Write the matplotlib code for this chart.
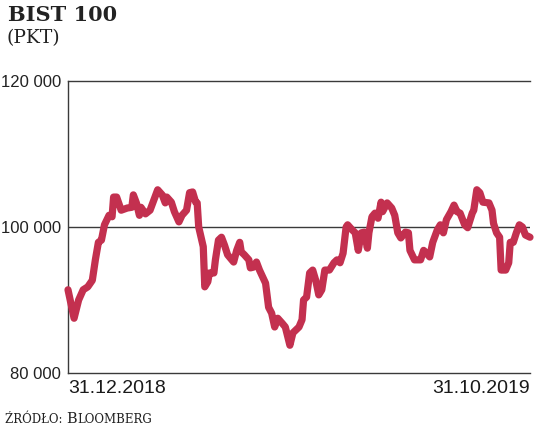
import matplotlib.pyplot as plt

# BIST 100 index, days since 31.12.2018
days = [0, 4, 7, 10, 13, 16, 18, 20, 22, 24, 27, 29, 30, 32, 35, 39, 42, 43, 45, 47,
        48, 51, 54, 57, 59, 62, 64, 65, 68, 70, 73, 75, 78, 80, 82, 84, 85, 86, 89, 90,
        92, 93, 96, 97, 99, 101, 103, 105, 109, 111, 113, 114, 116, 119, 120, 122, 124, 126, 130, 132,
        134, 136, 138, 141, 143, 146, 148, 152, 154, 155, 157, 159, 161, 163, 165, 167, 169, 172, 175, 177,
        179, 181, 183, 184, 187, 189, 191, 193, 195, 197, 198, 200, 202, 204, 206, 207, 210, 213, 215, 217,
        219, 222, 224, 225, 228, 232, 234, 236, 238, 240, 243, 245, 247, 249, 252, 254, 256, 258, 261, 263,
        266, 267, 269, 271, 273, 277, 279, 280, 282, 284, 285, 288, 290, 291, 293, 295, 297, 299, 301, 304]
values = [91400, 87500, 90000, 91400, 91800, 92700, 95500, 97900, 98200, 100300, 101600, 101400, 104100, 104100, 102300, 102600, 102700, 104400, 103300, 101600,
          102700, 101800, 102300, 104000, 105100, 104400, 103300, 104100, 103400, 102100, 100700, 101600, 102300, 104700, 104800, 103400, 103300, 100000, 97300, 91800,
          92500, 93700, 93700, 95500, 98200, 98600, 97500, 96200, 95200, 96800, 97900, 96600, 96200, 95500, 94400, 94500, 95200, 94100, 92300, 89000,
          88200, 86300, 87500, 86800, 86300, 83800, 85500, 86300, 87300, 90000, 90400, 93700, 94100, 92700, 90700, 91400, 94100, 94100, 95100, 95500,
          95100, 96400, 100000, 100300, 99600, 99200, 96800, 99200, 99300, 97100, 99200, 101400, 101900, 101200, 103400, 102100, 103300, 102600, 101600, 99200,
          98500, 99300, 99200, 96800, 95500, 95500, 96800, 96400, 95900, 97900, 99600, 100300, 99200, 101000, 102100, 103000, 102100, 101900, 100300, 99900,
          101900, 102300, 105100, 104700, 103400, 103300, 102300, 100500, 99200, 98600, 94100, 94100, 95100, 97900, 97900, 99200, 100300, 100000, 98900, 98600]

y_ticks = [80000, 100000, 120000]
y_labels = ['80 000', '100 000', '120 000']
x_ticks = [0, 304]
x_labels = ['31.12.2018', '31.10.2019']

sans = ['Liberation Sans', 'DejaVu Sans']
slab = 'DejaVu Serif'
axis_col = '#3a3a3a'

fig = plt.figure(figsize=(5.36, 4.29), dpi=100)
ax = fig.add_axes([68 / 536, 56 / 429, 462 / 536, 292 / 429])

ax.plot(days, values, color='#c3304f', lw=5.2, solid_joinstyle='round',
        solid_capstyle='round', zorder=3, clip_on=False)
ax.axhline(100000, color=axis_col, lw=1, zorder=2)

ax.set_xlim(0, 304)
ax.set_ylim(80000, 120000)
ax.spines['right'].set_visible(False)
for s in ['left', 'bottom', 'top']:
    ax.spines[s].set_color(axis_col)
    ax.spines[s].set_linewidth(1)

ax.set_yticks(y_ticks)
ax.set_yticklabels(y_labels, fontfamily=sans, fontsize=12, color='#222222')
ax.tick_params(axis='y', length=0, pad=5)
ax.set_xticks(x_ticks)
ax.set_xticklabels(x_labels, fontfamily=sans, fontsize=14, color='#1a1a1a')
ax.tick_params(axis='x', length=0, pad=5)
xl = ax.get_xticklabels()
xl[0].set_ha('left')
xl[1].set_ha('right')
xl[0].set_x(3)

fig.text(8 / 536, 1 - 5 / 429, 'BIST 100', fontfamily=slab, fontweight='bold',
         fontsize=15, va='top', ha='left', color='#222222')
fig.text(7 / 536, 1 - 29 / 429, '(PKT)', fontfamily=slab, fontsize=13.5,
         va='top', ha='left', color='#222222')

# source line in small caps
renderer = fig.canvas.get_renderer()
x0 = 5 / 536
y0 = 1 - 423 / 429
parts = [('ŹRÓDŁO: ', 8.5), ('B', 10.5), ('LOOMBERG', 8.5)]
for txt, size in parts:
    t = fig.text(x0, y0, txt, fontfamily=slab, fontsize=size, ha='left',
                 va='baseline', color='#222222')
    bb = t.get_window_extent(renderer)
    x0 += bb.width / fig.bbox.width

fig.savefig('out.png', dpi=100)
